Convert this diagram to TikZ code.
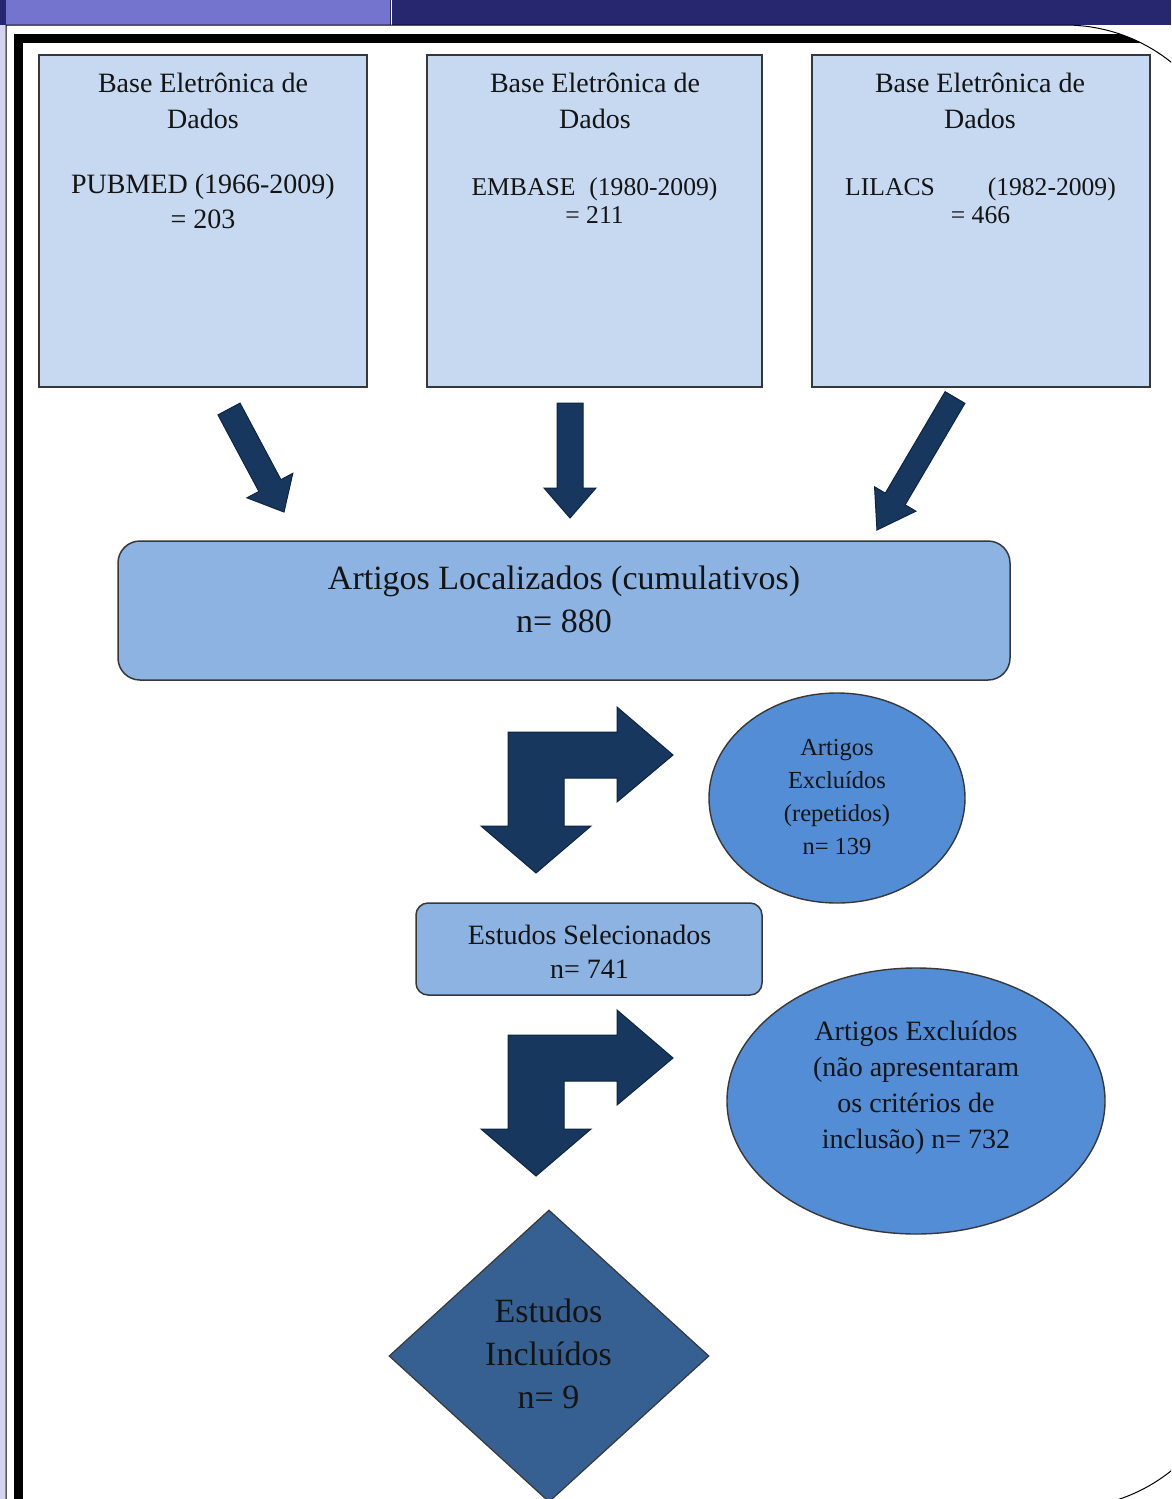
\documentclass[tikz,border=0pt]{standalone}
\usepackage{fontspec}
\setmainfont{Liberation Serif}
\usetikzlibrary{shapes.geometric}
\definecolor{hdrnavy}{HTML}{27276F}
\definecolor{hdrpurple}{HTML}{7474CE}
\definecolor{lav}{HTML}{D4D4F2}
\definecolor{edgegray}{HTML}{383838}
\definecolor{boxlight}{HTML}{C6D9F1}
\definecolor{boxmid}{HTML}{8DB3E2}
\definecolor{ellblue}{HTML}{538DD5}
\definecolor{diamblue}{HTML}{376092}
\definecolor{arrowblue}{HTML}{17375E}
\definecolor{arrowedge}{HTML}{0E2440}
\definecolor{txt}{HTML}{141414}
\newcommand\barrowpath[4]{(0,#2) -- ({#1-#4},#2) -- ({#1-#4},#3) -- (#1,0) -- ({#1-#4},-#3) -- ({#1-#4},-#2) -- (0,-#2) -- cycle}
\newcommand\slidepath{(6,1508) -- (6,25) -- (1065,25) .. controls (1158.9,25) and (1235,101.1) .. (1235,195) -- (1235,1338) .. controls (1235,1431.9) and (1158.9,1508) .. (1065,1508) -- cycle}
\begin{document}
\begin{tikzpicture}[x=1pt,y=-1pt,
  dbbox/.style={draw=edgegray, line width=1.8pt, fill=boxlight, inner sep=0pt, minimum height=332pt},
  roundbox/.style={draw=edgegray, line width=1.5pt, fill=boxmid, inner sep=0pt},
  excl/.style={ellipse, draw=edgegray, line width=1.4pt, fill=ellblue, inner sep=0pt},
  incl/.style={diamond, draw=edgegray, line width=1.2pt, fill=diamblue, inner sep=0pt},
  lbl/.style={align=center, inner sep=0pt, text=txt},
  blockarrow/.style={fill=arrowblue, draw=arrowedge, line width=1pt, line join=miter},
]
\useasboundingbox (0,0) rectangle (1171,1499);
\begin{scope}
\clip (0,0) rectangle (1171,1499);
% header and slide frame
\fill[white] (0,0) rectangle (1171,1499);
\fill[lav] (0,25) rectangle (6,1499);
\fill[hdrnavy] (0,0) rectangle (1171,25);
\fill[hdrpurple] (6,0) rectangle (390,25);
\draw[white, line width=1.5pt] (391.5,0) -- (391.5,25);
\begin{scope}
  \clip \slidepath;
  \draw[line width=9pt] (18,38) rectangle (1300,1600);
\end{scope}
\draw[line width=1pt] \slidepath;

% database boxes
\node[dbbox, minimum width=328pt] (pub) at (203,221) {};
\node[dbbox, minimum width=335pt] (emb) at (594.5,221) {};
\node[dbbox, minimum width=338pt] (lil) at (981,221) {};

\node[lbl, font=\fontsize{28}{36}\selectfont] (pubt) at (203,101) {Base Eletrônica de\\Dados};
\node[lbl, font=\fontsize{28}{36}\selectfont] (embt) at (595,101) {Base Eletrônica de\\Dados};
\node[lbl, font=\fontsize{28}{36}\selectfont] (lilt) at (980,101) {Base Eletrônica de\\Dados};

\node[lbl, font=\fontsize{28}{35}\selectfont] (pubn) at (203,201) {PUBMED (1966-2009)\\= 203};
\node[lbl, font=\fontsize{25.6}{28}\selectfont] (embn) at (594.5,201) {EMBASE\hspace{14pt}(1980-2009)\\= 211};
\node[lbl, font=\fontsize{25.6}{28}\selectfont] (liln) at (980.5,201) {LILACS\hspace{53pt}(1982-2009)\\= 466};

% straight block arrows
\begin{scope}[shift={(229,409)}, rotate=-61.9]
  \fill[blockarrow] \barrowpath{116.8}{12.5}{26}{30};
\end{scope}
\begin{scope}[shift={(570,403)}, rotate=-90]
  \fill[blockarrow] \barrowpath{115}{13}{26}{30};
\end{scope}
\begin{scope}[shift={(955,397.5)}, rotate=-120.5]
  \fill[blockarrow] \barrowpath{153.8}{11.5}{24}{36};
\end{scope}

% located articles
\node[roundbox, rounded corners=22pt, minimum width=892pt, minimum height=139pt] (loc) at (564,610.5) {};
\node[lbl, font=\fontsize{34}{43}\selectfont] (loct) at (564,599.5) {Artigos Localizados (cumulativos)\\n= 880};

% bent arrows
\foreach \dy in {0, 303} {
  \begin{scope}[yshift={-\dy pt}]
  \fill[blockarrow] (508,732) -- (617,732) -- (617,707) -- (673,755) -- (617,802) -- (617,778)
     -- (564,778) -- (564,826) -- (591,826) -- (536,873) -- (481,826) -- (508,826) -- cycle;
  \end{scope}
}

% excluded repeated
\node[excl, minimum width=256pt, minimum height=210pt] (ex1) at (837,798) {};
\node[lbl, font=\fontsize{24.5}{33}\selectfont] (ex1t) at (837,796.5) {Artigos\\Excluídos\\(repetidos)\\n= 139};

% selected studies
\node[roundbox, rounded corners=12pt, minimum width=346pt, minimum height=92pt] (sel) at (589,949) {};
\node[lbl, font=\fontsize{28}{34}\selectfont] (selt) at (589.5,952) {Estudos Selecionados\\n= 741};

% excluded criteria
\node[excl, minimum width=378pt, minimum height=266pt] (ex2) at (916,1101) {};
\node[lbl, font=\fontsize{28}{36}\selectfont] (ex2t) at (916,1088) {Artigos Excluídos\\(não apresentaram\\os critérios de\\inclusão) n= 732};

% included studies
\node[incl, minimum width=320pt, minimum height=292pt] (inc) at (549,1356) {};
\node[lbl, font=\fontsize{34}{43}\selectfont] (inct) at (548.5,1353.5) {Estudos\\Incluídos\\n= 9};
\end{scope}
\end{tikzpicture}
\end{document}
